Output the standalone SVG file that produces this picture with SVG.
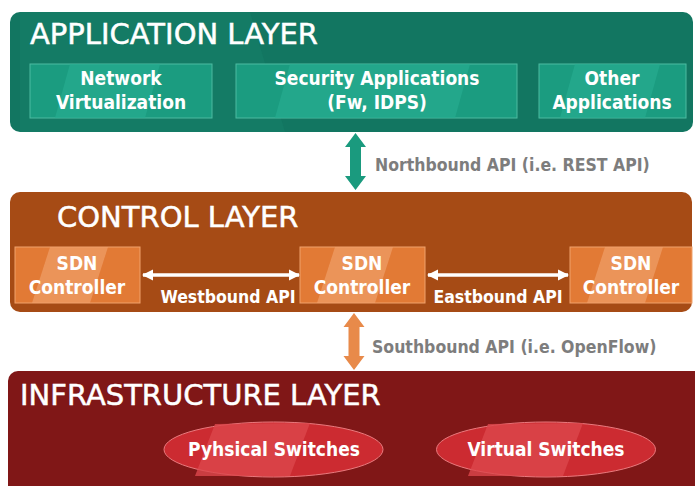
<svg xmlns="http://www.w3.org/2000/svg" width="695" height="486" viewBox="0 0 695 486">
  <defs>
    <style>
      .title { font-family: "DejaVu Sans", sans-serif; font-size: 29px; fill: #ffffff; stroke: #ffffff; stroke-width: 0.5; }
      .box-text { font-family: "DejaVu Sans Condensed", "DejaVu Sans", sans-serif; font-weight: bold; font-size: 19px; fill: #ffffff; text-anchor: middle; }
      .api { font-family: "DejaVu Sans Condensed", "DejaVu Sans", sans-serif; font-weight: bold; font-size: 17.5px; fill: #7d7d7d; }
      .api-in { font-family: "DejaVu Sans Condensed", "DejaVu Sans", sans-serif; font-weight: bold; font-size: 17.5px; fill: #ffffff; text-anchor: middle; }
      .app-box { fill: #1b9c80; stroke: #4cbba1; stroke-width: 1; }
      .ctl-box { fill: #e27a35; stroke: #f0a26c; stroke-width: 1; }
      .sw { fill: #cc2b31; stroke: #ea7a7e; stroke-width: 1; }
    </style>
    <marker id="wh" viewBox="0 0 10 10" refX="9" refY="5" markerWidth="3.2" markerHeight="3.2" orient="auto-start-reverse">
      <path d="M0,0 L10,5 L0,10 z" fill="#ffffff"/>
    </marker>
  </defs>

  <rect width="695" height="486" fill="#ffffff"/>

  <!-- Application layer -->
  <g id="application-layer">
    <rect x="10" y="12" width="683" height="120" rx="10" fill="#127661"/>
    <path d="M20 12 L250 12 L285 132 L20 132 z" fill="#157e68" opacity="0.6"/>
    <text class="title" x="30" y="44">APPLICATION LAYER</text>
  </g>
  <g id="network-virtualization">
    <rect class="app-box" x="30" y="64" width="182" height="54"/>
    <path d="M70 64 L160 64 L145 118 L55 118 z" fill="#27ad90" opacity="0.7"/>
    <text class="box-text" x="121" y="85">Network</text>
    <text class="box-text" x="121" y="109">Virtualization</text>
  </g>
  <g id="security-applications">
    <rect class="app-box" x="236" y="64" width="281" height="54"/>
    <path d="M290 64 L470 64 L455 118 L275 118 z" fill="#27ad90" opacity="0.7"/>
    <text class="box-text" x="377" y="85">Security Applications</text>
    <text class="box-text" x="377" y="109">(Fw, IDPS)</text>
  </g>
  <g id="other-applications">
    <rect class="app-box" x="539" y="64" width="147" height="54"/>
    <path d="M575 64 L660 64 L645 118 L560 118 z" fill="#27ad90" opacity="0.7"/>
    <text class="box-text" x="612" y="85">Other</text>
    <text class="box-text" x="612" y="109">Applications</text>
  </g>

  <!-- Control layer -->
  <g id="control-layer">
    <rect x="10" y="192" width="682" height="120" rx="10" fill="#a64b15"/>
    <text class="title" x="57" y="227">CONTROL LAYER</text>
  </g>
  <g id="sdn-controller-west">
    <rect class="ctl-box" x="15" y="247" width="125" height="56"/>
    <path d="M50 247 L108 247 L90 303 L32 303 z" fill="#f0a06a" opacity="0.7"/>
    <text class="box-text" x="77" y="270">SDN</text>
    <text class="box-text" x="77" y="294">Controller</text>
  </g>
  <g id="sdn-controller-center">
    <rect class="ctl-box" x="300" y="247" width="125" height="56"/>
    <path d="M335 247 L393 247 L375 303 L317 303 z" fill="#f0a06a" opacity="0.7"/>
    <text class="box-text" x="362" y="270">SDN</text>
    <text class="box-text" x="362" y="294">Controller</text>
  </g>
  <g id="sdn-controller-east">
    <rect class="ctl-box" x="570" y="247" width="122" height="56"/>
    <path d="M605 247 L663 247 L645 303 L587 303 z" fill="#f0a06a" opacity="0.7"/>
    <text class="box-text" x="631" y="270">SDN</text>
    <text class="box-text" x="631" y="294">Controller</text>
  </g>

  <!-- Infrastructure layer -->
  <g id="infrastructure-layer">
    <rect x="8" y="371" width="700" height="125" rx="10" fill="#801717"/>
    <text class="title" x="20" y="405">INFRASTRUCTURE LAYER</text>
  </g>
  <g id="physical-switches">
    <ellipse class="sw" cx="273.5" cy="449.5" rx="109.5" ry="27.5"/>
    <path d="M215 424 L310 423 L290 476 L195 476 z" fill="#dc474c" opacity="0.8"/>
    <text class="box-text" x="274" y="456">Pyhsical Switches</text>
  </g>
  <g id="virtual-switches">
    <ellipse class="sw" cx="546" cy="449.5" rx="109.5" ry="27.5"/>
    <path d="M488 424 L583 423 L563 476 L468 476 z" fill="#dc474c" opacity="0.8"/>
    <text class="box-text" x="546" y="456">Virtual Switches</text>
  </g>

  <!-- Connectors -->
  <g id="connectors">
    <path d="M355.5 133 L366 147 L361 147 L361 176 L366 176 L355.5 190 L345 176 L350 176 L350 147 L345 147 z" fill="#1a9a7e"/>
    <text class="api" x="375" y="171">Northbound API (i.e. REST API)</text>

    <path d="M354 313 L364.5 327 L359.5 327 L359.5 356 L364.5 356 L354 370 L343.5 356 L348.5 356 L348.5 327 L343.5 327 z" fill="#e88a4a"/>
    <text class="api" x="372" y="353">Southbound API (i.e. OpenFlow)</text>

    <line x1="143" y1="275" x2="299" y2="275" stroke="#ffffff" stroke-width="3.5" marker-start="url(#wh)" marker-end="url(#wh)"/>
    <text class="api-in" x="228" y="303">Westbound API</text>
    <line x1="428" y1="275" x2="568" y2="275" stroke="#ffffff" stroke-width="3.5" marker-start="url(#wh)" marker-end="url(#wh)"/>
    <text class="api-in" x="498" y="303">Eastbound API</text>
  </g>
</svg>
